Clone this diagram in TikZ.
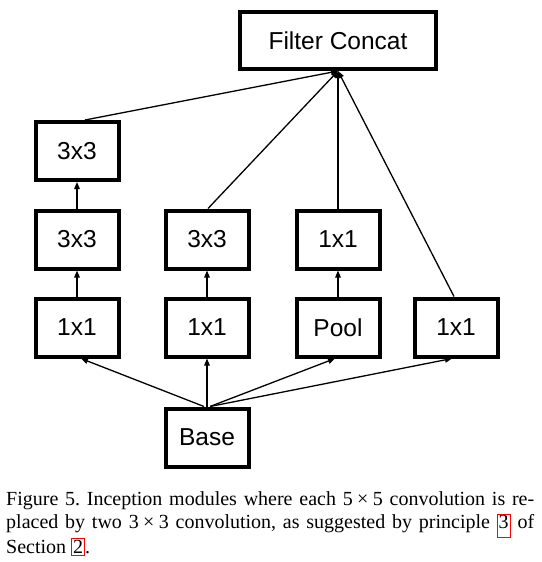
\documentclass[tikz,border=0pt]{standalone}
\usepackage{fontspec}
\setmainfont{Liberation Serif}
\newfontfamily\boxfont{Liberation Sans}
\usetikzlibrary{arrows.meta}
\frenchspacing
\newcommand\linkbox[3]{{\color{red}\setlength{\fboxsep}{0pt}\setlength{\fboxrule}{1pt}\fbox{\hspace{1pt}\color{black}\rule[-#2]{0pt}{#3}#1\hspace{1pt}}}}
\tikzset{
  layer/.style={draw, line width=4pt, rectangle, minimum width=83pt, minimum height=58pt, inner sep=0pt,
    font=\boxfont\fontsize{24.5}{29}\selectfont},
  conn/.style={line width=1.3pt, -{Triangle[length=7pt,width=5.5pt]}},
  capline/.style={anchor=base west, inner sep=0pt, font=\fontsize{20}{23.7}\selectfont}
}
\begin{document}
\begin{tikzpicture}[x=1pt, y=-1pt]
\useasboundingbox (0,0) rectangle (541,562);
\fill[white] (0,0) rectangle (541,562);
% top
\node[layer, minimum width=196pt, minimum height=57pt] (fc) at (338,40.5) {Filter Concat};
% column 1
\node[layer] (a1) at (77,151) {3x3};
\node[layer] (a2) at (77,239.5) {3x3};
\node[layer] (a3) at (77,327.5) {1x1};
% column 2
\node[layer] (b2) at (207,239.5) {3x3};
\node[layer] (b3) at (207,327.5) {1x1};
% column 3
\node[layer] (c2) at (338,239.5) {1x1};
\node[layer] (c3) at (338,327.5) {Pool};
% column 4
\node[layer] (d3) at (456,327.5) {1x1};
% base
\node[layer] (base) at (207,437.5) {Base};
% connectors to Filter Concat
\draw[conn] ([xshift=8pt]a1.north) -- (fc.south);
\draw[conn] ([xshift=1pt]b2.north) -- (fc.south);
\draw[conn] (c2.north) -- (fc.south);
\draw[conn] ([xshift=-2pt]d3.north) -- (fc.south);
% vertical connectors
\draw[conn] (a2.north) -- (a1.south);
\draw[conn] (a3.north) -- (a2.south);
\draw[conn] (b3.north) -- (b2.south);
\draw[conn] (c3.north) -- (c2.south);
% from base
\draw[conn] ([xshift=-3pt]base.north) -- ([xshift=4pt]a3.south);
\draw[conn] (base.north) -- (b3.south);
\draw[conn] ([xshift=3pt]base.north) -- ([xshift=-3pt]c3.south);
\draw[conn] ([xshift=3pt]base.north) -- ([xshift=-4pt]d3.south);
% caption
\node[capline] (cap1) at (6,505.5) {\makebox[528pt][s]{Figure 5. Inception modules where each 5\hspace{0.22em}×\hspace{0.22em}5 convolution is re-}};
\node[capline] (cap2) at (6,528.5) {\makebox[528pt][s]{placed by two 3\hspace{0.22em}×\hspace{0.22em}3 convolution, as suggested by principle \linkbox{3}{8pt}{22pt} of}};
\node[capline] (cap3) at (6,553.3) {Section \linkbox{2}{2pt}{16pt}.};
\end{tikzpicture}
\end{document}
